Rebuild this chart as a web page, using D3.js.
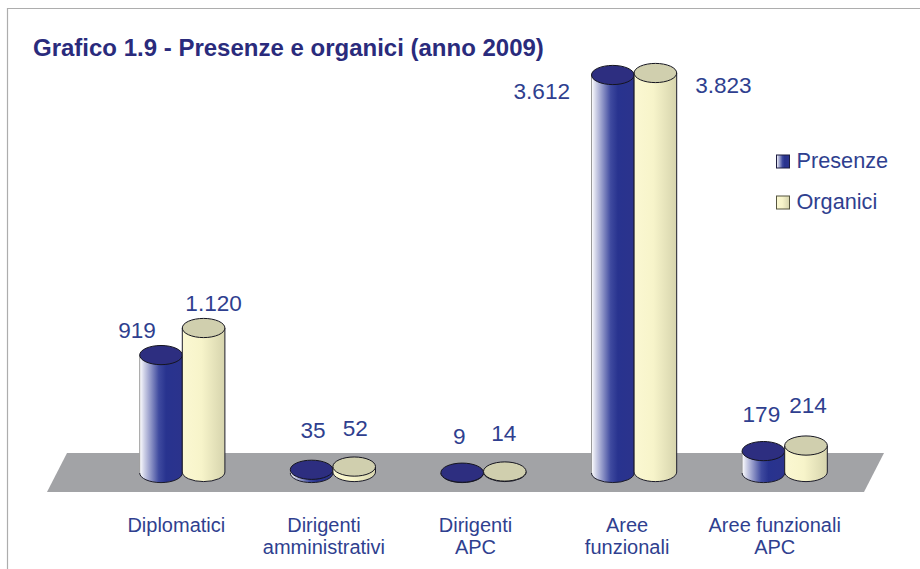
<!DOCTYPE html>
<html><head><meta charset="utf-8">
<script src="https://cdn.jsdelivr.net/npm/d3@7/dist/d3.min.js"></script>
<style>html,body{margin:0;padding:0;background:#fff}svg{display:block}text{font-family:"Liberation Sans",Arial,sans-serif}</style>
</head><body><svg id="c" width="920" height="569"></svg>
<script>
const titleText = "Grafico 1.9 - Presenze e organici (anno 2009)";
const categories = [["Diplomatici"],["Dirigenti","amministrativi"],["Dirigenti","APC"],["Aree","funzionali"],["Aree funzionali","APC"]];
const presenze = [919,35,9,3612,179];
const organici = [1120,52,14,3823,214];
const presenzeLabels = ["919","35","9","3.612","179"];
const organiciLabels = ["1.120","52","14","3.823","214"];
const seriesNames = ["Presenze","Organici"];

// layout nudges, separate from the data
const presLabelNudge = [[-24,-17],[1.5,-32],[-3,-29],[-71,24],[-2,-29.5]];
const orgLabelNudge  = [[10,-17],[1,-31],[-1,-31],[68,20],[2,-32.5]];
const catNudge = [-6,-9,-8,-7,-10];

const W=920,H=569, RX=21.3, RY=9.6;
const svg=d3.select("#c");
const defs=svg.append("defs");
function grad(id,stops){
  const g=defs.append("linearGradient").attr("id",id).attr("x1",0).attr("x2",1).attr("y1",0).attr("y2",0);
  stops.forEach(s=>g.append("stop").attr("offset",s[0]).attr("stop-color",s[1]));
}
grad("gP",[[0,"#ffffff"],[0.12,"#c9cce4"],[0.45,"#3f4a9f"],[0.62,"#28338f"],[1,"#2b338c"]]);
grad("gO",[[0,"#fbf8d2"],[0.45,"#f7f4ca"],[1,"#d6d4ad"]]);

// frame
svg.append("path").attr("d","M7.5,569V8.5H920").attr("fill","none").attr("stroke","#adadad").attr("stroke-width",1.2);

// title
svg.append("text").attr("x",33).attr("y",56).attr("font-size",24).attr("font-weight","bold").attr("fill","#2a2b7c").text(titleText);

// floor
svg.append("path").attr("d",d3.line()([[47,492],[864,492],[884,453],[67,453]])+"Z").attr("fill","#a2a3a6");

// scales
const x=d3.scaleBand().domain(d3.range(categories.length)).range([107,860]).padding(0);
const h=d3.scaleLinear().domain([0,14,1120,3612,3823]).range([0,0.5,144,398,399]);
const baseP=473, baseO=472;

function cyl(cx,base,v,fill,topFill,edge){
  const top=base-h(v), g=svg.append("g");
  const l=cx-RX, r=cx+RX;
  g.append("path").attr("d",`M${l},${top}L${l},${base}A${RX},${RY} 0 0 0 ${r},${base}L${r},${top}Z`)
    .attr("fill",`url(#${fill})`).attr("stroke","none");
  g.append("path").attr("d",`M${l},${base}A${RX},${RY} 0 0 0 ${r},${base}L${r},${top}`)
    .attr("fill","none").attr("stroke","#1c1c2a").attr("stroke-width",1);
  g.append("path").attr("d",`M${l},${top}L${l},${base}`).attr("fill","none").attr("stroke",edge).attr("stroke-width",1);
  g.append("ellipse").attr("cx",cx).attr("cy",top).attr("rx",RX).attr("ry",RY)
    .attr("fill",topFill).attr("stroke","#15151f").attr("stroke-width",1);
}
const valStyle=s=>s.attr("font-size",22.6).attr("fill","#2f3f8f").attr("text-anchor","middle");
categories.forEach((c,i)=>{
  const mid=x(i)+x.bandwidth()/2;
  const cp=mid-RX, co=mid+RX;
  cyl(cp,baseP,presenze[i],"gP","#2d2e80","#9a9a9a");
  cyl(co,baseO,organici[i],"gO","#d0cfae","#1c1c2a");
  svg.append("text").call(valStyle).attr("x",cp+presLabelNudge[i][0]).attr("y",baseP-h(presenze[i])+presLabelNudge[i][1]).text(presenzeLabels[i]);
  svg.append("text").call(valStyle).attr("x",co+orgLabelNudge[i][0]).attr("y",baseO-h(organici[i])+orgLabelNudge[i][1]).text(organiciLabels[i]);
  const t=svg.append("text").attr("text-anchor","middle").attr("font-size",20).attr("fill","#2f3f8f");
  c.forEach((ln,j)=>t.append("tspan").attr("x",mid+catNudge[i]).attr("y",532+j*22).text(ln));
});

// legend
const leg=d3.scalePoint().domain(seriesNames).range([168,209]);
seriesNames.forEach((n,i)=>{
  const y=leg(n);
  svg.append("rect").attr("x",776.5).attr("y",y-13).attr("width",13).attr("height",13)
    .attr("fill",i?"url(#gO)":"url(#gP)").attr("stroke",i?"#55553f":"#1c1c40").attr("stroke-width",1);
  svg.append("text").attr("x",796.5).attr("y",y).attr("font-size",21.7).attr("fill","#2f3f8f").text(n);
});
</script></body></html>
